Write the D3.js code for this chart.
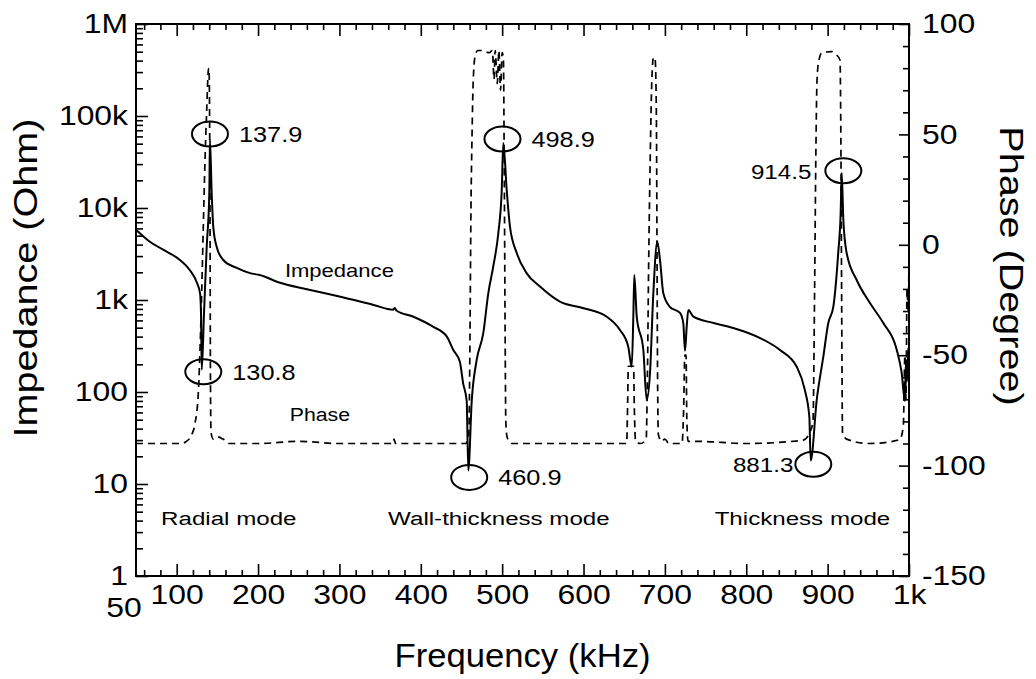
<!DOCTYPE html>
<html lang="en">
<head>
    <meta charset="UTF-8">
    <title>Impedance and Phase vs Frequency</title>
    <script src="https://d3js.org/d3.v7.min.js"></script>
    <style>
        body { margin: 0; background: #fff; }
        svg text { font-family: "Liberation Sans", Arial, Helvetica, sans-serif; fill: #000; }
    </style>
</head>
<body>
<div id="chart"></div>
<script>
    // Impedance curve (kHz, Ohm)
    const impFreq = [50,67,84,104,116,125,128.7,129.9,130.8,133.6,136.9,140.1,140.9,143,145,149.2,157.3,173.8,190,202,227,260,300,342,366,368,370,391,415,432,440,448,452,456.4,458.4,462.6,468.7,476.8,483,489,495.3,499.5,501.4,505.6,509.6,517.9,530,546.5,571,599,628.5,644.8,655,659.2,661.2,662.4,665.4,673.5,677.6,681.7,685.8,690.7,694,698,706,718.6,722.6,724.7,726.8,728.8,735,760,784,817,841.5,862,872,877.5,879.2,886.6,894.7,900.8,907,913,916,917.3,919.3,923.4,935.7,952,968.4,985,991,995,996.3,997.5,999,1000];
    const impOhm = [5800,4300,3500,2720,2120,1530,1190,720,175,720,3770,14600,55000,14600,6200,3770,2720,2230,1960,1870,1540,1310,1090,884,785,820,770,658,513,400,286,213,125,80,14,80,223,437,1190,2300,5350,15700,51000,15700,6270,3240,1960,1400,960,820,658,472,311,188,658,1870,658,286,82,161,1190,4300,2720,1190,844,723,562,280,513,778,658,562,497,386,286,188,105,54,18,82,242,562,844,3240,8830,24000,7410,3240,1650,927,562,286,161,80,223,130,300,180];

    // Phase curve (kHz, degree)
    const phaseFreq = [50,105,112,118.4,122.5,126.6,129.3,130.7,132.7,134.8,136.9,138.9,139.7,140.9,141.5,142.2,145,150,157,165,200,250,300,366,367,369,420,455,459,460.5,461.5,463,464.5,467,470,476,484,488,490,491.5,494,496,498,500,501.5,502.5,503.5,504.5,506,508,512,600,653,654.3,655,661.5,662.5,664,670,677,678.5,680,682,684,686,688,689.5,690.3,691,692,696,700,705,721,723,724.5,726,727,728.5,740,800,870,878,882,884,885.5,887,889,893,905,911,915.2,916.4,917.3,918.3,923.4,950,980,989,993,995,996.3,997.6,999,1000];
    const phaseDeg = [-90,-90,-89,-86,-81,-67,-40,-22,8,38,61,79,80,20,-60,-85,-88,-87,-88,-90,-90,-89,-90,-90,-88,-90,-90,-90,-86,-40,10,50,75,86,88,88,87,88,75,88,73,88,70,87,85,40,-30,-80,-87,-88.5,-90,-90,-90,-70,-55,-55,-75,-89,-90,-88,-60,-10,40,75,85,84,60,0,-60,-86,-89,-88,-90,-90,-75,-50,-50,-80,-89,-89,-90,-88.5,-85,-80,-20,40,75,83,87,87.5,86,83.7,40,-30,-85,-88,-90,-89,-88,-82,-50,-70,-20,-30,-5];

    // circled resonance points
    const markLabel = ["137.9", "130.8", "498.9", "460.9", "914.5", "881.3"];
    const markFreq = [140.9, 132.7, 500.4, 459.5, 919.3, 882.4];
    const markOhm = [63700, 166, 56200, 11.8, 25400, 16.4];

    // mode names (centre frequency)
    const modeLabel = ["Radial mode", "Wall-thickness mode", "Thickness mode"];
    const modeFreq = [164, 496, 869];

    // axis ticks
    const xMajor = [100, 200, 300, 400, 500, 600, 700, 800, 900, 1000];
    const yMajor = [1, 10, 100, 1e3, 1e4, 1e5, 1e6];
    const yMajorText = ["1", "10", "100", "1k", "10k", "100k", "1M"];
    const pMajor = [-150, -100, -50, 0, 50, 100];

    const W = 1036, H = 679;
    const L = 136, R = 909, T = 24, B = 576;

    const svg = d3.select("#chart").append("svg")
        .attr("width", W).attr("height", H);
    svg.append("rect").attr("width", W).attr("height", H).attr("fill", "#fff");

    const x = d3.scaleLinear().domain([50, 1000]).range([L, R]);
    const y = d3.scaleLog().domain([1, 1e6]).range([B, T]);
    const yP = d3.scaleLinear().domain([-150, 100]).range([B, T]);

    // stretched text helper (the original lettering is wide)
    function label(parent, txt, px, py, size, sx, anchor, rot) {
        return parent.append("text")
            .attr("transform", `translate(${px},${py}) rotate(${rot || 0}) scale(${sx},1)`)
            .attr("text-anchor", anchor)
            .style("font-size", size + "px")
            .text(txt);
    }

    const tickFont = 27, tickSx = 1.18;

    // minor tick values
    const xMinor = d3.range(60, 1000, 20).filter(v => v % 100 !== 0);
    const yMinor = [];
    for (let d = 1; d < 1e6; d *= 10) for (let k = 2; k <= 9; k++) yMinor.push(d * k);
    const pMinor = d3.range(-140, 100, 10).filter(v => v % 50 !== 0);

    function styleAxis(g) {
        g.select(".domain").remove();
        g.selectAll("line").attr("stroke", "#000").attr("stroke-width", 1.6);
        g.selectAll("text").style("font-size", tickFont + "px").attr("fill", "#000");
    }

    // bottom
    svg.append("g").attr("transform", `translate(0,${B})`)
        .call(d3.axisBottom(x).tickValues(xMinor).tickSize(-6).tickFormat(""))
        .call(styleAxis);
    const gx = svg.append("g").attr("transform", `translate(0,${B})`)
        .call(d3.axisBottom(x).tickValues(xMajor).tickSize(-12).tickPadding(9)
            .tickFormat(d => d === 1000 ? "1k" : d))
        .call(styleAxis);
    gx.selectAll("text").attr("transform", `scale(${tickSx},1)`);
    label(svg, "50", x(50) - 12, B + 41, tickFont, tickSx, "middle");

    // top
    svg.append("g").attr("transform", `translate(0,${T})`)
        .call(d3.axisTop(x).tickValues(xMinor).tickSize(-6).tickFormat(""))
        .call(styleAxis);
    svg.append("g").attr("transform", `translate(0,${T})`)
        .call(d3.axisTop(x).tickValues(xMajor).tickSize(-12).tickFormat(""))
        .call(styleAxis);

    // left (log impedance)
    svg.append("g").attr("transform", `translate(${L},0)`)
        .call(d3.axisLeft(y).tickValues(yMinor).tickSize(-7).tickFormat(""))
        .call(styleAxis);
    const gy = svg.append("g").attr("transform", `translate(${L},0)`)
        .call(d3.axisLeft(y).tickValues(yMajor).tickSize(-12)
            .tickFormat((d, i) => yMajorText[i]))
        .call(styleAxis);
    gy.selectAll("text").attr("x", -8 / tickSx).attr("transform", `scale(${tickSx},1)`);

    // right (phase)
    svg.append("g").attr("transform", `translate(${R},0)`)
        .call(d3.axisRight(yP).tickValues(pMinor).tickSize(-6).tickFormat(""))
        .call(styleAxis);
    const gp = svg.append("g").attr("transform", `translate(${R},0)`)
        .call(d3.axisRight(yP).tickValues(pMajor).tickSize(-10).tickFormat(d => d))
        .call(styleAxis);
    gp.selectAll("text").attr("x", 13 / tickSx).attr("transform", `scale(${tickSx},1)`);

    // frame
    svg.append("rect")
        .attr("x", L).attr("y", T).attr("width", R - L).attr("height", B - T)
        .attr("fill", "none").attr("stroke", "#000").attr("stroke-width", 2);

    // curves
    const impLine = d3.line()
        .x((d, i) => x(impFreq[i])).y(d => y(d))
        .curve(d3.curveMonotoneX);
    svg.append("path")
        .datum(impOhm)
        .attr("d", impLine)
        .attr("fill", "none").attr("stroke", "#000").attr("stroke-width", 2)
        .attr("stroke-linejoin", "round");

    const phaseLine = d3.line()
        .x((d, i) => x(phaseFreq[i])).y(d => yP(d))
        .curve(d3.curveMonotoneX);
    svg.append("path")
        .datum(phaseDeg)
        .attr("d", phaseLine)
        .attr("fill", "none").attr("stroke", "#000").attr("stroke-width", 1.7)
        .attr("stroke-dasharray", "7,5");

    // circled points
    markLabel.forEach((t, i) => {
        const cx = x(markFreq[i]), cy = y(markOhm[i]);
        svg.append("ellipse")
            .attr("cx", cx).attr("cy", cy).attr("rx", 18).attr("ry", 12.5)
            .attr("fill", "none").attr("stroke", "#000").attr("stroke-width", 2);
        const left = i >= 4;
        const size = left ? 21 : 22;
        label(svg, t, left ? cx - (i === 5 ? 20 : 32) : cx + 29, cy + 8, size, 1.15, left ? "end" : "start");
    });

    // curve names
    label(svg, "Impedance", x(233), y(1800), 19, 1.16, "start");
    label(svg, "Phase", x(239), yP(-80), 19, 1.12, "start");

    // mode names
    modeLabel.forEach((t, i) => {
        label(svg, t, x(modeFreq[i]), yP(-127), 19, 1.27, "middle");
    });

    // axis titles
    label(svg, "Frequency (kHz)", (L + R) / 2, 667, 33, 1.05, "middle");
    label(svg, "Impedance (Ohm)", 37, 278, 33, 1.2, "middle", -90);
    label(svg, "Phase (Degree)", 1000, 266, 33, 1.2, "middle", 90);
</script>
</body>
</html>
